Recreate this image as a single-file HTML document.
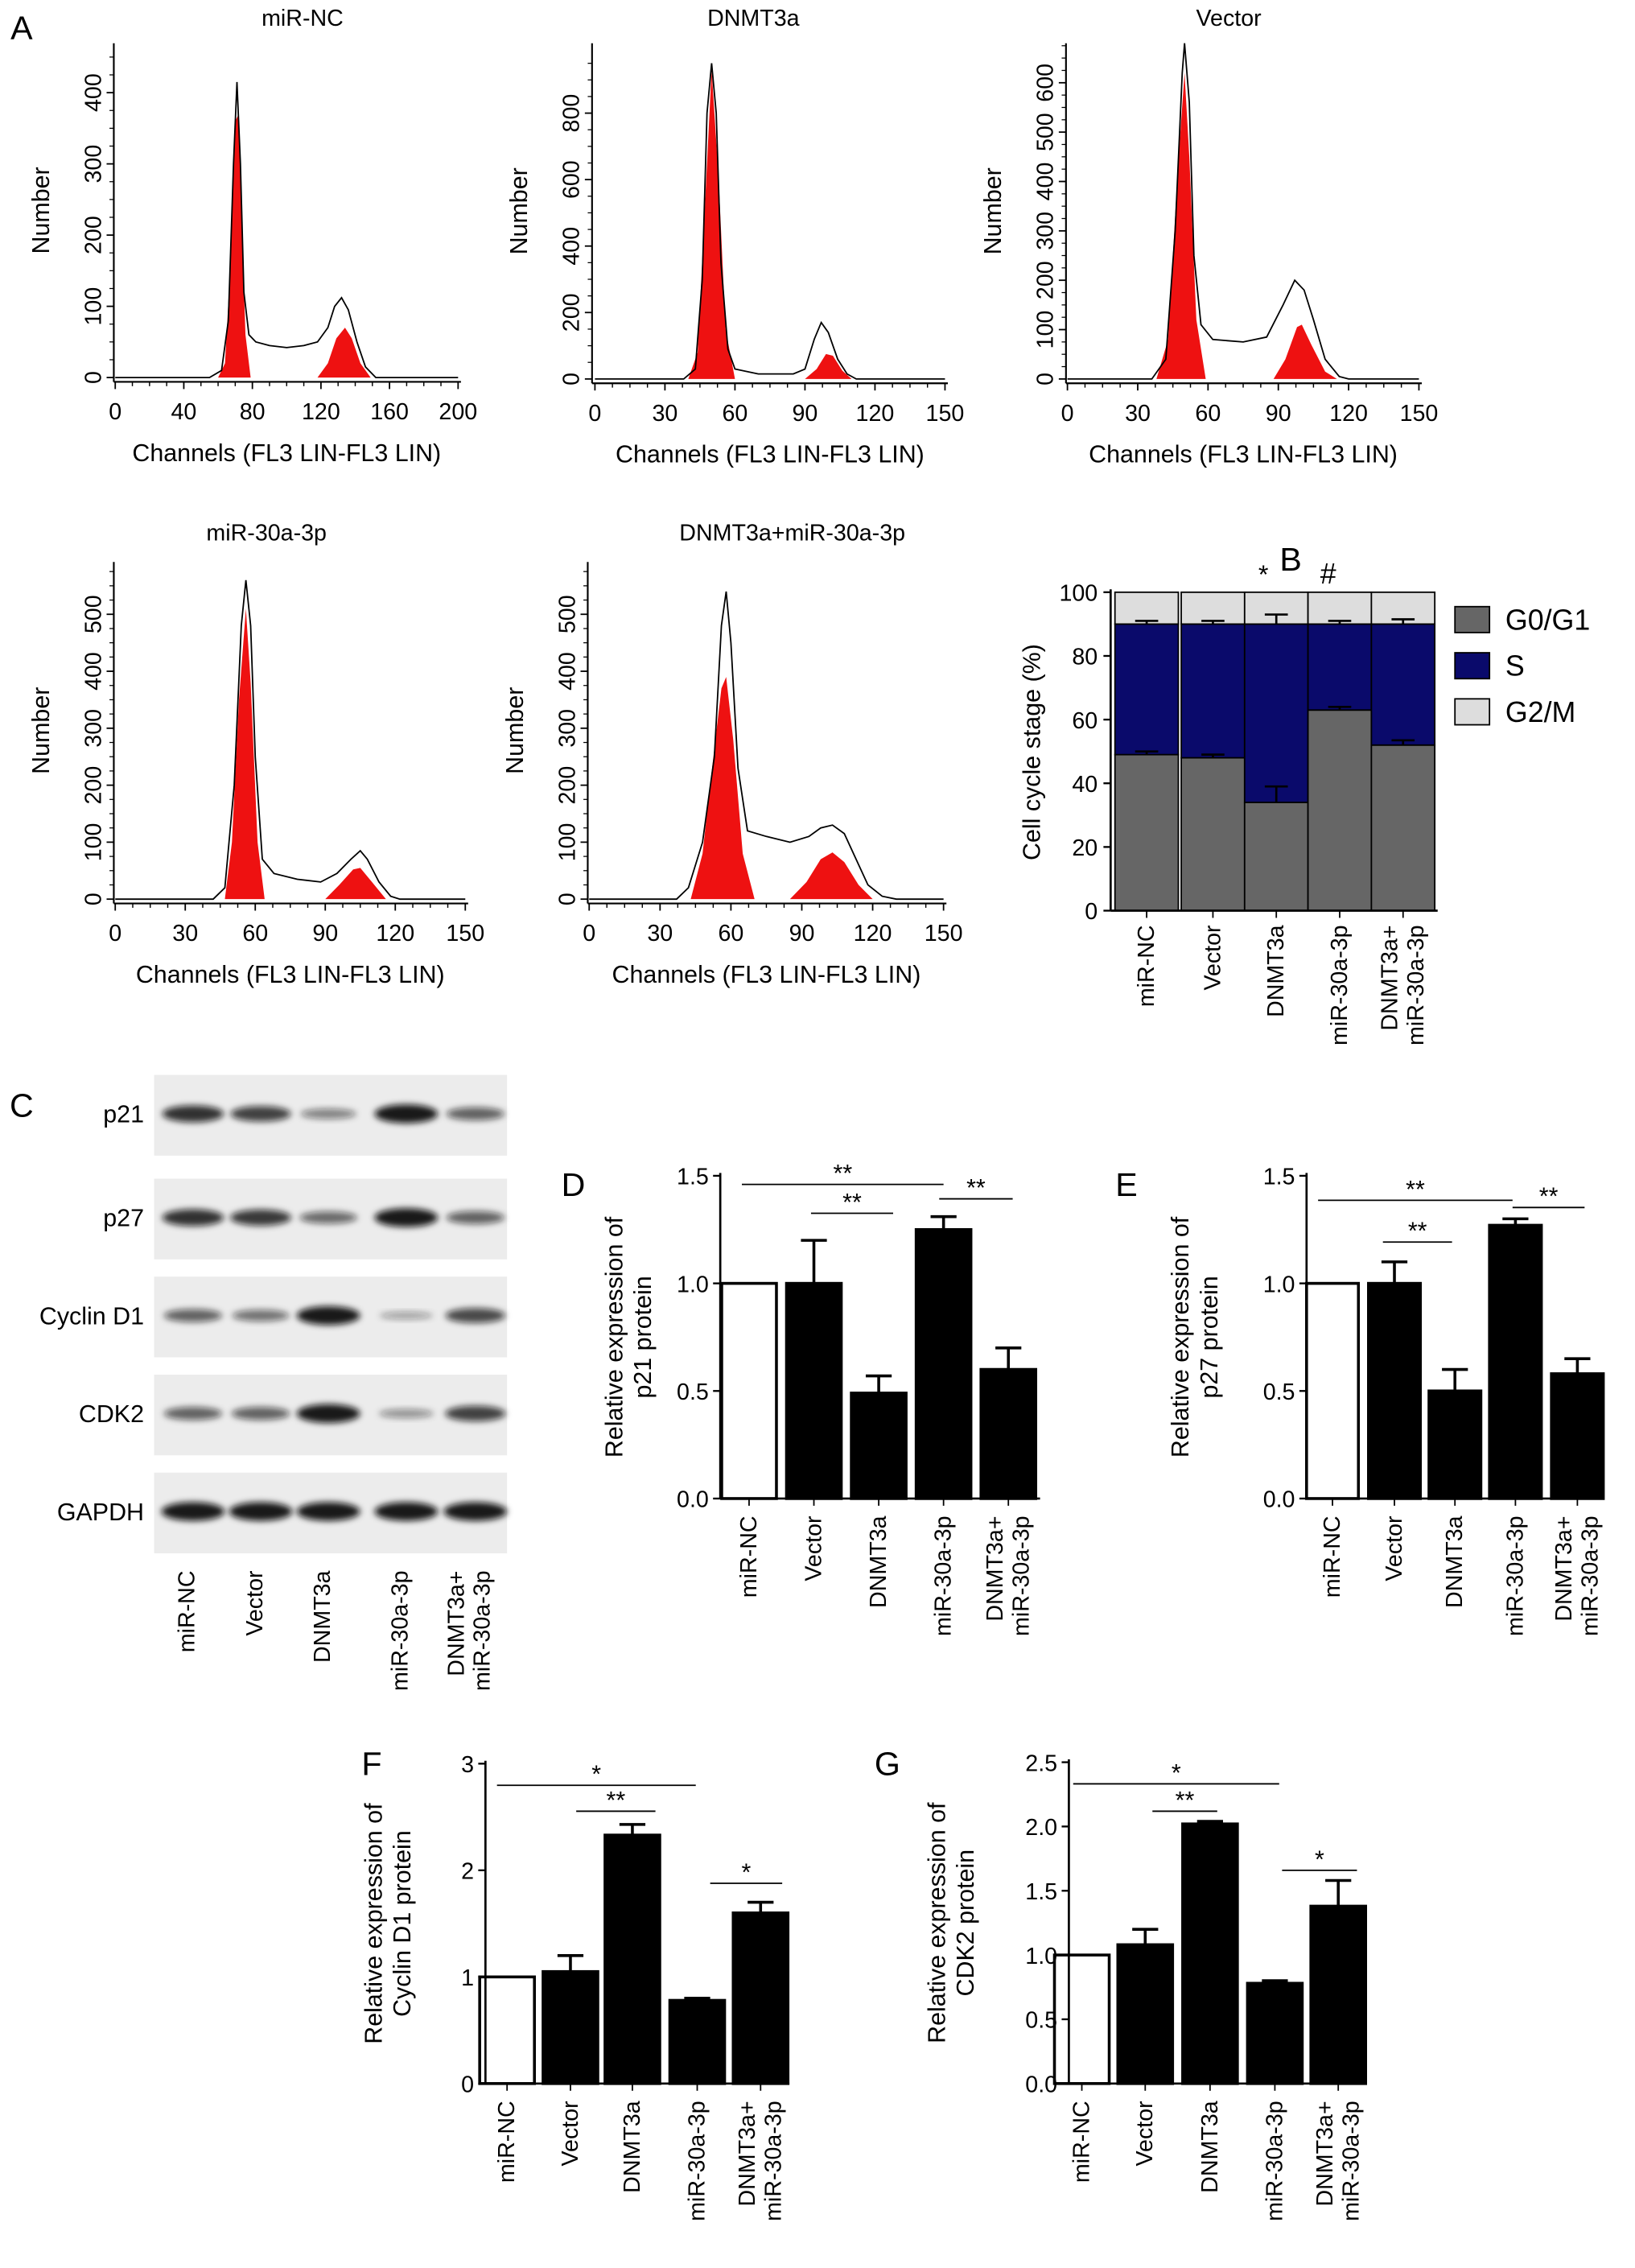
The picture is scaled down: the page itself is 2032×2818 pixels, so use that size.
<!DOCTYPE html>
<html><head><meta charset="utf-8"><style>
html,body{margin:0;padding:0;background:#fff}
svg{display:block;font-family:"Liberation Sans",Arial,sans-serif}
</style></head><body>
<svg id="fig" width="2032" height="2818" viewBox="0 0 1135 1574" xmlns="http://www.w3.org/2000/svg"></svg>
<script>
// ---------- Data ----------
const histTitles=["miR-NC","DNMT3a","Vector","miR-30a-3p","DNMT3a+miR-30a-3p"];
const histOutline=[
 [[0,0],[55,0],[62,10],[66,80],[69,300],[71,415],[73,300],[75,120],[78,60],[82,50],[90,45],[100,42],[110,45],[118,50],[124,70],[128,100],[132,112],[136,95],[141,50],[146,15],[152,0],[200,0]],
 [[0,0],[38,0],[43,30],[46,300],[48,800],[50,950],[52,800],[54,350],[57,90],[60,30],[70,15],[85,15],[90,30],[94,120],[97,170],[100,140],[104,60],[108,15],[112,0],[150,0]],
 [[0,0],[36,0],[42,40],[46,300],[49,620],[50,680],[52,560],[54,250],[57,110],[62,80],[75,75],[85,85],[92,150],[97,200],[101,180],[105,120],[110,40],[116,5],[120,0],[150,0]],
 [[0,0],[42,0],[47,20],[51,200],[54,480],[56,560],[58,480],[60,250],[63,70],[68,45],[78,35],[88,30],[95,45],[101,70],[105,85],[108,70],[113,30],[118,5],[122,0],[150,0]],
 [[0,0],[37,0],[42,20],[48,100],[53,250],[56,480],[58,540],[60,450],[63,230],[67,120],[75,110],[85,100],[93,110],[98,125],[103,130],[108,115],[113,70],[118,25],[124,5],[130,0],[150,0]]
];
const histRedG1=[
 [[60,0],[64,20],[67,150],[70,360],[72,370],[74,200],[76,60],[79,0]],
 [[40,0],[44,80],[47,500],[50,930],[53,600],[56,150],[60,0]],
 [[38,0],[43,80],[47,420],[50,620],[52,450],[55,120],[59,0]],
 [[47,0],[50,100],[53,350],[56,510],[58,380],[61,100],[64,0]],
 [[43,0],[48,80],[52,230],[56,370],[58,390],[61,280],[65,80],[70,0]]
];
const histRedG2=[
 [[118,0],[124,20],[129,55],[134,70],[138,55],[143,20],[149,0]],
 [[90,0],[95,30],[99,75],[102,70],[106,25],[110,0]],
 [[88,0],[93,40],[98,105],[100,110],[104,70],[110,15],[115,0]],
 [[90,0],[96,25],[102,52],[105,55],[110,30],[116,0]],
 [[85,0],[92,30],[98,70],[103,82],[108,65],[114,25],[120,0]]
];
const histXTicks=[[0,40,80,120,160,200],[0,30,60,90,120,150],[0,30,60,90,120,150],[0,30,60,90,120,150],[0,30,60,90,120,150]];
const histYTicks=[[0,100,200,300,400],[0,200,400,600,800],[0,100,200,300,400,500,600],[0,100,200,300,400,500],[0,100,200,300,400,500]];

const groups=["miR-NC","Vector","DNMT3a","miR-30a-3p","DNMT3a+|miR-30a-3p"];
const stackG0=[49,48,34,63,52];
const stackS=[41,42,56,27,38];
const stackG0Err=[1,1,5,1,1.5];
const stackSErr=[1,1,3,1,1.5];
const stackTicks=[0,20,40,60,80,100];

const p21Vals=[1.0,1.0,0.49,1.25,0.6];
const p21Err=[0,0.2,0.08,0.06,0.1];
const p27Vals=[1.0,1.0,0.5,1.27,0.58];
const p27Err=[0,0.1,0.1,0.03,0.07];
const cycVals=[1.0,1.05,2.33,0.78,1.6];
const cycErr=[0,0.15,0.1,0.02,0.1];
const cdkVals=[1.0,1.08,2.02,0.78,1.38];
const cdkErr=[0,0.12,0.02,0.02,0.2];
const ticks15=[0.0,0.5,1.0,1.5];
const ticks3=[0,1,2,3];
const ticks25=[0.0,0.5,1.0,1.5,2.0,2.5];

const blotRows=["p21","p27","Cyclin D1","CDK2","GAPDH"];
const blotIntensity=[[0.85,0.75,0.35,1.0,0.55],[0.85,0.8,0.5,1.0,0.55],[0.55,0.45,1.0,0.15,0.7],[0.55,0.55,1.0,0.25,0.75],[1,1,1,1,1]];

// ---------- helpers ----------
const svg=document.getElementById('fig');
const NS="http://www.w3.org/2000/svg";
function mk(tag,attrs,parent){const e=document.createElementNS(NS,tag);for(const k in attrs)e.setAttribute(k,attrs[k]);(parent||svg).appendChild(e);return e;}
function txt(x,y,s,size,anchor,parent,extra){const t=mk('text',Object.assign({x:x,y:y,'font-size':size,'text-anchor':anchor||'middle',fill:'#000'},extra||{}),parent);t.textContent=s;return t;}
function grp(name){const g=mk('g',{});return g;}

// panel letters
[["A",15,27],["B",896,396],["C",15,775],["D",398,830],["E",782,830],["F",258,1232],["G",616,1232]].forEach(l=>{
 const t=txt(l[1],l[2],l[0],23,'middle');
});

// ---------- histograms ----------
const histLayout=[
 {ax:79,x0:80,x1:318,xmax:200,y0:262,ytop:30,ymax:460,ty:18,tx:210},
 {ax:411,x0:413,x1:656,xmax:150,y0:263,ytop:30,ymax:980,ty:18,tx:523},
 {ax:740,x0:741,x1:985,xmax:150,y0:263,ytop:30,ymax:680,ty:18,tx:853},
 {ax:79,x0:80,x1:323,xmax:150,y0:624,ytop:390,ymax:580,ty:375,tx:185},
 {ax:408,x0:409,x1:655,xmax:150,y0:624,ytop:390,ymax:580,ty:375,tx:550}
];
histLayout.forEach((L,i)=>{
 const g=grp('histogram-'+i);
 const sx=v=>L.x0+(v/L.xmax)*(L.x1-L.x0);
 const pyPer=(L.y0-L.ytop)/L.ymax*(i==0?0.98:i==1?0.97:i==2?1.0:0.98);
 const sy=v=>L.y0-v*pyPer;
 const poly=(arr)=>arr.map(p=>sx(p[0]).toFixed(1)+','+sy(p[1]).toFixed(1)).join(' ');
 const r1=mk('polygon',{points:poly(histRedG1[i]),fill:'#ee1111'},g);
 const r2=mk('polygon',{points:poly(histRedG2[i]),fill:'#ee1111'},g);
 const ol=mk('polyline',{points:poly(histOutline[i]),fill:'none',stroke:'#000','stroke-width':1},g);
 mk('line',{x1:L.ax,y1:L.ytop,x2:L.ax,y2:L.y0+3,stroke:'#000','stroke-width':1.2},g);
 mk('line',{x1:L.ax,y1:L.y0+3,x2:L.x1+2,y2:L.y0+3,stroke:'#000','stroke-width':1.2},g);
 histXTicks[i].forEach(v=>{mk('line',{x1:sx(v),y1:L.y0+3,x2:sx(v),y2:L.y0+8,stroke:'#000'},g);txt(sx(v),L.y0+29,String(v),16,'middle',g);
   if(v<L.xmax){for(let k=1;k<4;k++){const m=v+k*(histXTicks[i][1]/4);mk('line',{x1:sx(m),y1:L.y0+3,x2:sx(m),y2:L.y0+6,stroke:'#000','stroke-width':0.8},g);}}});
 histYTicks[i].forEach(v=>{const y=sy(v);mk('line',{x1:L.ax-5,y1:y,x2:L.ax,y2:y,stroke:'#000'},g);txt(L.ax-9,y,String(v),16,'middle',g,{transform:`rotate(-90 ${L.ax-9} ${y})`});});
 const step=histYTicks[i][1]/4;for(let v=0;v<=L.ymax;v+=step){mk('line',{x1:L.ax-3,y1:sy(v),x2:L.ax,y2:sy(v),stroke:'#000','stroke-width':0.7},g);}
 const t=txt(L.tx,L.ty,histTitles[i],16,'middle',g);
 const yl=txt(L.ax-45,(L.y0+L.ytop)/2,'Number',17,'middle',g,{transform:`rotate(-90 ${L.ax-45} ${(L.y0+L.ytop)/2})`});
 const xl=txt((L.x0+L.x1)/2,L.y0+58,'Channels (FL3 LIN-FL3 LIN)',17,'middle',g);
});

// ---------- group labels (rotated) ----------
function groupLabels(g,centers,ytop,size){
 groups.forEach((n,i)=>{const parts=n.split('|');
  parts.forEach((p,j)=>{const x=centers[i]+ (parts.length>1?(j==0?-9:9):0)+5;const t=txt(x,ytop,p,size,'end',g,{transform:`rotate(-90 ${x} ${ytop})`});});
 });
}

// ---------- Panel B stacked ----------
(function(){
 const g=grp('stacked-bar-chart');
 const ax=771,y0=632,ytop=411,bw=44;
 const centers=[796,842,886,930,974];
 const sy=v=>y0-(v/100)*(y0-ytop);
 stackG0.forEach((v,i)=>{
  const x=centers[i]-bw/2;
  const b1=mk('rect',{x:x,y:sy(v),width:bw,height:sy(0)-sy(v),fill:'#666',stroke:'#000','stroke-width':1},g);
  const s=stackS[i];
  const b2=mk('rect',{x:x,y:sy(v+s),width:bw,height:sy(v)-sy(v+s),fill:'#0a0a6b',stroke:'#000','stroke-width':1},g);
  const b3=mk('rect',{x:x,y:sy(100),width:bw,height:sy(v+s)-sy(100),fill:'#ddd',stroke:'#000','stroke-width':1},g);
  [[v,stackG0Err[i]],[v+s,stackSErr[i]]].forEach(e=>{mk('line',{x1:centers[i],y1:sy(e[0]),x2:centers[i],y2:sy(e[0]+e[1]),stroke:'#000','stroke-width':1.5},g);mk('line',{x1:centers[i]-8,y1:sy(e[0]+e[1]),x2:centers[i]+8,y2:sy(e[0]+e[1]),stroke:'#000','stroke-width':1.5},g);});
 });
 mk('line',{x1:ax,y1:ytop-2,x2:ax,y2:y0,stroke:'#000','stroke-width':1.5},g);
 mk('line',{x1:ax,y1:y0,x2:998,y2:y0,stroke:'#000','stroke-width':1.5},g);
 stackTicks.forEach(v=>{mk('line',{x1:ax-5,y1:sy(v),x2:ax,y2:sy(v),stroke:'#000','stroke-width':1.3},g);txt(ax-9,sy(v)+6,String(v),16,'end',g);});
 centers.forEach(c=>mk('line',{x1:c,y1:y0,x2:c,y2:y0+5,stroke:'#000'},g));
 txt(877,405,'*',18,'middle',g);txt(922,405,'#',20,'middle',g);
 const yl=txt(722,522,'Cell cycle stage (%)',17,'middle',g,{transform:'rotate(-90 722 522)'});
 groupLabels(g,centers,642,16);
 [["G0/G1",'#666',430],["S",'#0a0a6b',462],["G2/M",'#ddd',494]].forEach(l=>{const r=mk('rect',{x:1010,y:l[2]-9,width:24,height:18,fill:l[1],stroke:'#000'},g);const t=txt(1045,l[2]+7,l[0],20,'start',g);});
})();

// ---------- Panel C blots ----------
(function(){
 const g=grp('western-blot');
 const tops=[746,818,886,954,1022];const lanes=[134,181,228,282,330];
 const defs=mk('defs',{},g);
 const f=mk('filter',{id:'blur',x:'-50%',y:'-50%',width:'200%',height:'200%'},defs);mk('feGaussianBlur',{stdDeviation:'2.2'},f);
 blotRows.forEach((r,i)=>{
  const bx=mk('rect',{x:107,y:tops[i],width:245,height:56,fill:'#ececec'},g);
  blotIntensity[i].forEach((v,j)=>{const e=mk('ellipse',{cx:lanes[j],cy:tops[i]+27,rx:18+4*v,ry:2+4.5*v,fill:'#111','fill-opacity':0.25+0.7*v,filter:'url(#blur)'},g);});
  const t=txt(100,tops[i]+33,r,17,'end',g);
 });
 groupLabels(g,lanes.map(x=>x-4),1090,16);
})();

// ---------- bar charts ----------
function barChart(name,L,vals,errs,ticks,ylabel,sig){
 const g=grp(name);
 const sy=v=>L.y0-(v/L.ymax)*(L.y0-L.ytop);
 vals.forEach((v,i)=>{const x=L.centers[i]-L.bw/2;
  const b=mk('rect',{x:x,y:sy(v),width:L.bw,height:sy(0)-sy(v),fill:i==0?'#fff':'#000',stroke:'#000','stroke-width':2},g);
  if(errs[i]>0){mk('line',{x1:L.centers[i],y1:sy(v),x2:L.centers[i],y2:sy(v+errs[i]),stroke:'#000','stroke-width':2},g);mk('line',{x1:L.centers[i]-9,y1:sy(v+errs[i]),x2:L.centers[i]+9,y2:sy(v+errs[i]),stroke:'#000','stroke-width':2},g);}
 });
 mk('line',{x1:L.ax,y1:L.ytop-2,x2:L.ax,y2:L.y0,stroke:'#000','stroke-width':1.5},g);
 mk('line',{x1:L.ax,y1:L.y0,x2:L.xend,y2:L.y0,stroke:'#000','stroke-width':1.5},g);
 ticks.forEach(v=>{mk('line',{x1:L.ax-5,y1:sy(v),x2:L.ax,y2:sy(v),stroke:'#000','stroke-width':1.3},g);txt(L.ax-8,sy(v)+6,L.fmt(v),16,'end',g);});
 L.centers.forEach(c=>mk('line',{x1:c,y1:L.y0,x2:c,y2:L.y0+5,stroke:'#000'},g));
 const lx=L.ax-L.ylo, my=(L.y0+L.ytop)/2;
 ylabel.forEach((s,k)=>{const x=lx+k*20;const t=txt(x,my,s,17,'middle',g,{transform:`rotate(-90 ${x} ${my})`});});
 sig.forEach(s=>{mk('line',{x1:s[0],y1:s[2],x2:s[1],y2:s[2],stroke:'#000','stroke-width':1},g);const t=txt((s[0]+s[1])/2,s[2]-2,s[3],17,'middle',g);});
 groupLabels(g,L.centers,L.y0+12,16);
}
const f1=v=>v.toFixed(1), f0=v=>String(v);
barChart('chart-p21',{ax:500,y0:1040,ytop:816,ymax:1.5,bw:38,centers:[520,565,610,655,700],xend:722,ylo:68,fmt:f1},p21Vals,p21Err,ticks15,['Relative expression of','p21 protein'],[[515,655,822,'**'],[563,620,842,'**'],[652,703,832,'**']]);
barChart('chart-p27',{ax:907,y0:1040,ytop:816,ymax:1.5,bw:36,centers:[925,968,1010,1052,1095],xend:1112,ylo:82,fmt:f1},p27Vals,p27Err,ticks15,['Relative expression of','p27 protein'],[[915,1050,833,'**'],[960,1008,862,'**'],[1050,1100,838,'**']]);
barChart('chart-cyclin-d1',{ax:337,y0:1446,ytop:1224,ymax:3,bw:38,centers:[352,396,439,484,528],xend:548,ylo:72,fmt:f0},cycVals,cycErr,ticks3,['Relative expression of','Cyclin D1 protein'],[[345,483,1239,'*'],[400,455,1257,'**'],[493,543,1307,'*']]);
barChart('chart-cdk2',{ax:742,y0:1446,ytop:1223,ymax:2.5,bw:38,centers:[751,795,840,885,929],xend:948,ylo:86,fmt:f1},cdkVals,cdkErr,ticks25,['Relative expression of','CDK2 protein'],[[745,888,1238,'*'],[800,845,1257,'**'],[890,942,1298,'*']]);
</script>
</body></html>
